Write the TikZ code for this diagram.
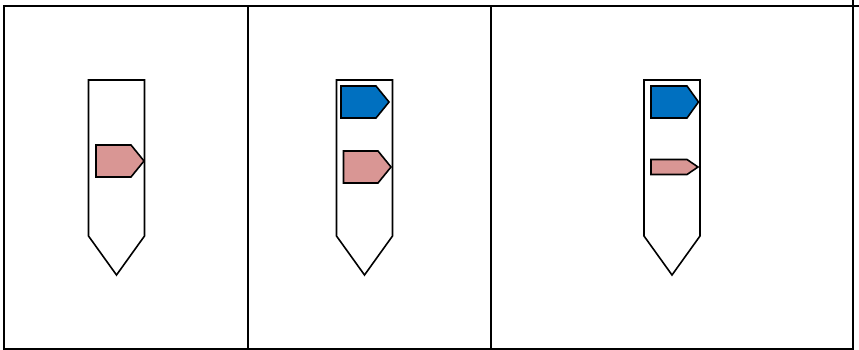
\documentclass[tikz,border=0pt]{standalone}
\usepackage{tikz}
\usepackage{xcolor}

\definecolor{tagblue}{HTML}{0070C0}
\definecolor{tagpink}{HTML}{D99694}

\tikzset{
  grid line/.style={line width=2pt, line cap=rect},
  tube/.style={draw=black, fill=white, line width=1.6pt, line join=miter},
  tag/.style={draw=black, line width=1.6pt, line join=miter}
}

% tag: left, top, bottom, shoulder x, tip x, fill colour
\newcommand{\tagshape}[6]{%
  \draw[tag, fill=#6] (#1,#2) -- (#4,#2) -- (#5,{(#2+#3)/2}) -- (#4,#3) -- (#1,#3) -- cycle;%
}
% tube: left, right
\newcommand{\tubeshape}[2]{%
  \draw[tube] (#1,80) -- (#2,80) -- (#2,236) -- ({(#1+#2)/2},275) -- (#1,236) -- cycle;%
}

\begin{document}
\begin{tikzpicture}[x=1pt, y=-1pt]
\useasboundingbox (0,0) rectangle (859,350);

% table
\draw[grid line] (4,6) -- (859,6);
\draw[grid line] (4,349) -- (853,349);
\draw[grid line] (4,6) -- (4,349);
\draw[grid line] (247.5,6) -- (247.5,349);
\draw[grid line] (491,6) -- (491,349);
\draw[grid line] (852.5,0) -- (852.5,349);

% first column
\tubeshape{88.5}{144.5}
\tagshape{96}{145}{177}{131}{144}{tagpink}

% second column
\tubeshape{336.5}{392.5}
\tagshape{341}{86}{118}{376}{389}{tagblue}
\tagshape{343.5}{151}{183}{378}{391}{tagpink}

% third column
\tubeshape{644}{700}
\tagshape{651}{86}{118}{687}{698.5}{tagblue}
\tagshape{651}{159.5}{174.5}{687}{698}{tagpink}
\end{tikzpicture}
\end{document}
